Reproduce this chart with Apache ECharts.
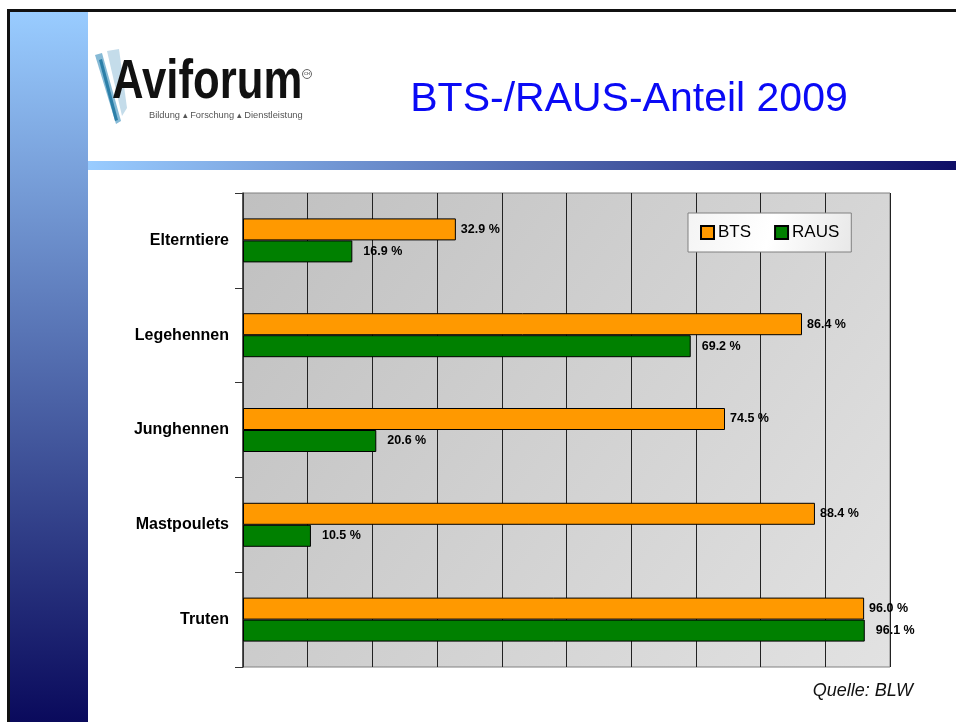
<!DOCTYPE html>
<html>
<head>
<meta charset="utf-8">
<script src="https://cdn.jsdelivr.net/npm/echarts@6/dist/echarts.min.js"></script>
<style>
  html, body { margin: 0; padding: 0; background: #fff; }
  #chart { width: 956px; height: 722px; }
</style>
</head>
<body>
<div id="chart"></div>
<script>
// BTS-/RAUS-Anteil 2009
const categories = ['Elterntiere', 'Legehennen', 'Junghennen', 'Mastpoulets', 'Truten'];
const btsValues = [32.9, 86.4, 74.5, 88.4, 96.0];
const rausValues = [16.9, 69.2, 20.6, 10.5, 96.1];
const seriesNames = ['BTS', 'RAUS'];

const FONT = '"Liberation Sans", Arial, sans-serif';
const chart = echarts.init(document.getElementById('chart'), null, { renderer: 'canvas' });

function pct(p) {
  return p.value.toFixed(1) + ' %';
}

const option = {
  backgroundColor: '#fff',
  animation: false,
  grid: {
    left: 243,
    top: 193,
    width: 647,
    height: 474,
    containLabel: false,
    outerBoundsMode: 'none',
    show: true,
    borderColor: '#808080',
    borderWidth: 1,
    backgroundColor: new echarts.graphic.LinearGradient(0, 0, 1, 1, [
      { offset: 0, color: '#C0C0C0' },
      { offset: 1, color: '#E2E2E2' }
    ])
  },
  legend: {
    data: seriesNames,
    left: 688,
    top: 213,
    itemGap: 23,
    itemWidth: 13,
    itemHeight: 13,
    icon: 'rect',
    padding: [11, 12, 11, 12],
    borderColor: '#808080',
    borderWidth: 1,
    backgroundColor: new echarts.graphic.LinearGradient(0, 0, 1, 1, [
      { offset: 0, color: '#F4F4F4' },
      { offset: 0.5, color: '#FFFFFF' },
      { offset: 1, color: '#E8E8E8' }
    ]),
    textStyle: { fontFamily: FONT, fontSize: 17, color: '#000', padding: [0, 0, 0, -1] }
  },
  xAxis: {
    type: 'value',
    min: 0,
    max: 100,
    interval: 10,
    axisLabel: { show: false },
    axisLine: { show: false },
    axisTick: { show: false },
    splitLine: { lineStyle: { color: '#222', width: 1 } }
  },
  yAxis: {
    type: 'category',
    data: categories,
    inverse: true,
    axisLine: { show: true, lineStyle: { color: '#333', width: 1.5 } },
    axisTick: { show: true, inside: false, length: 8, lineStyle: { color: '#333', width: 1 } },
    axisLabel: {
      fontFamily: FONT,
      fontWeight: 'bold',
      fontSize: 16,
      color: '#000',
      margin: 14
    }
  },
  series: [{
    name: seriesNames[0],
    type: 'bar',
    data: btsValues,
    barWidth: 22,
    barGap: '0%',
    itemStyle: { color: '#FF9900', borderColor: '#000', borderWidth: 1 },
    label: {
      show: true,
      position: 'right',
      distance: 5,
      formatter: pct,
      fontFamily: FONT,
      fontWeight: 'bold',
      fontSize: 12.5,
      color: '#000'
    }
  }, {
    name: seriesNames[1],
    type: 'bar',
    data: rausValues,
    barWidth: 22,
    barGap: '0%',
    itemStyle: { color: '#008000', borderColor: '#000', borderWidth: 1 },
    label: {
      show: true,
      position: 'right',
      distance: 11,
      formatter: pct,
      fontFamily: FONT,
      fontWeight: 'bold',
      fontSize: 12.5,
      color: '#000'
    }
  }],
  graphic: [
    // slide frame
    { type: 'rect', shape: { x: 7, y: 9, width: 949, height: 3 }, style: { fill: '#111' }, silent: true },
    { type: 'rect', shape: { x: 7, y: 9, width: 3, height: 713 }, style: { fill: '#111' }, silent: true },
    {
      type: 'rect', shape: { x: 10, y: 12, width: 78, height: 710 }, silent: true,
      style: {
        fill: new echarts.graphic.LinearGradient(0, 0, 0, 1, [
          { offset: 0, color: '#99CCFF' },
          { offset: 1, color: '#0A0A5C' }
        ])
      }
    },
    {
      type: 'rect', shape: { x: 88, y: 161, width: 868, height: 9 }, silent: true,
      style: {
        fill: new echarts.graphic.LinearGradient(0, 0, 1, 0, [
          { offset: 0, color: '#99CCFF' },
          { offset: 1, color: '#0E0E66' }
        ])
      }
    },
    // logo
    { type: 'polygon', shape: { points: [[107, 51], [119, 49], [127, 108], [122, 116]] }, style: { fill: '#C4DCEA' }, silent: true },
    { type: 'polygon', shape: { points: [[95, 55], [102, 53], [121, 121], [116, 124]] }, style: { fill: '#86BAD6' }, silent: true },
    { type: 'polygon', shape: { points: [[99, 60], [102, 59], [118, 120], [115, 121]] }, style: { fill: '#2C7FA8' }, silent: true },
    {
      type: 'text', x: 112, y: 83, scaleX: 0.81, scaleY: 1.02, silent: true,
      style: { text: 'Aviforum', font: 'bold 54px ' + FONT, fill: '#111', align: 'left', verticalAlign: 'middle' }
    },
    { type: 'circle', shape: { cx: 307, cy: 74, r: 4.5 }, style: { fill: 'none', stroke: '#666', lineWidth: 1 }, silent: true },
    {
      type: 'text', x: 307, y: 74, silent: true,
      style: { text: 'CH', font: 'bold 4px ' + FONT, fill: '#666', align: 'center', verticalAlign: 'middle' }
    },
    {
      type: 'text', x: 149, y: 115, silent: true,
      style: { text: 'Bildung \u25B4 Forschung \u25B4 Dienstleistung', font: '9.3px ' + FONT, fill: '#555', align: 'left', verticalAlign: 'middle' }
    },
    // title
    {
      type: 'text', x: 629, y: 100, silent: true,
      style: { text: 'BTS-/RAUS-Anteil 2009', font: '41px ' + FONT, fill: '#0A0AF5', align: 'center', verticalAlign: 'middle' }
    },
    // source
    {
      type: 'text', x: 913, y: 691, silent: true,
      style: { text: 'Quelle: BLW', font: 'italic 18px ' + FONT, fill: '#111', align: 'right', verticalAlign: 'middle' }
    }
  ]
};

chart.setOption(option);
</script>
</body>
</html>
